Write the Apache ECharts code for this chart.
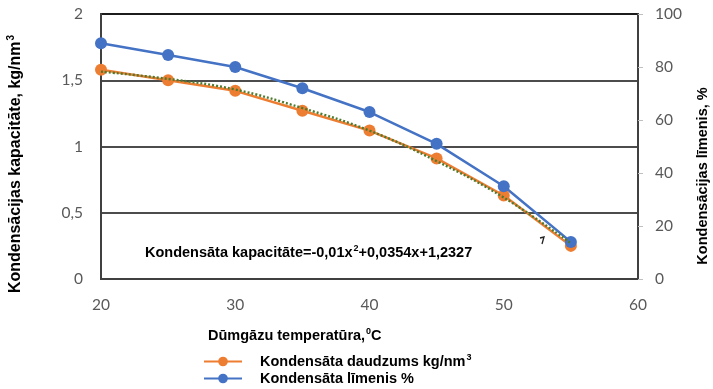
<!DOCTYPE html>
<html>
<head>
<meta charset="utf-8">
<script src="https://cdn.jsdelivr.net/npm/echarts@6/dist/echarts.min.js"></script>
<style>
  html, body { margin: 0; padding: 0; background: #fff; }
  #chart { width: 713px; height: 389px; }
</style>
</head>
<body>
<div id="chart"></div>
<script>
// Flue gas temperature, °C
const temperatures = [20, 25, 30, 35, 40, 45, 50, 55];
// Condensate amount, kg/nm³ (left axis)
const condensateAmount = [1.58, 1.50, 1.42, 1.27, 1.12, 0.91, 0.63, 0.25];
// Condensation level, % (right axis)
const condensationLevel = [89, 84.5, 80, 72, 63, 51, 35, 14];
// Polynomial trend of the condensate amount
const trendValues = [1.565, 1.51, 1.43, 1.29, 1.12, 0.89, 0.615, 0.27];

const leftTicks = ['0', '0,5', '1', '1,5', '2'];
const seriesNames = ['Kondensāta daudzums kg/nm³', 'Kondensāta līmenis %'];

const pairs = (xs, ys) => xs.map((x, i) => [x, ys[i]]);

const tickFont = { color: '#595959', fontSize: 15.5, fontFamily: 'Lato, "Liberation Sans", sans-serif' };
const boldFont = '"Liberation Sans", Arial, sans-serif';

const richBold = (size, supSize, lift) => ({
  t: { fontFamily: boldFont, fontWeight: 'bold', fontSize: size, fill: '#000', color: '#000' },
  s: { fontFamily: boldFont, fontWeight: 'bold', fontSize: supSize, fill: '#000', color: '#000', padding: [0, 0, lift, 1] }
});

// One legend block per series, stacked
const legendBlock = (name, top) => ({
  orient: 'vertical',
  left: 203, top: top, padding: 0,
  data: [name],
  itemWidth: 38, itemHeight: 12,
  formatter: n => n.endsWith('³') ? '{t|' + n.slice(0, -1) + '}{s|3}' : '{t|' + n + '}',
  textStyle: { padding: [0, 0, 0, 13], rich: richBold(14.5, 9, 8) }
});

const chart = echarts.init(document.getElementById('chart'));
chart.setOption({
  animation: false,
  backgroundColor: '#fff',
  grid: {
    left: 101, right: 75, top: 14, bottom: 110,
    show: true, borderColor: '#404040', borderWidth: 2, backgroundColor: 'transparent'
  },
  xAxis: {
    type: 'value', min: 20, max: 60, interval: 10,
    axisLine: { show: true, lineStyle: { color: '#404040', width: 2 } },
    axisTick: { show: false },
    splitLine: { show: false },
    axisLabel: Object.assign({ margin: 18 }, tickFont)
  },
  yAxis: [
    {
      type: 'value', min: 0, max: 2, interval: 0.5, position: 'left',
      axisLine: { show: true, lineStyle: { color: '#404040', width: 2 } },
      axisTick: { show: false },
      splitLine: { show: true, lineStyle: { color: '#111', width: 1.6 } },
      axisLabel: Object.assign({
        margin: 18,
        formatter: v => leftTicks[Math.round(v / 0.5)]
      }, tickFont)
    },
    {
      type: 'value', min: 0, max: 100, interval: 20, position: 'right',
      axisLine: { show: true, lineStyle: { color: '#404040', width: 2 } },
      axisTick: { show: true, length: 5, lineStyle: { color: '#bfbfbf', width: 1 } },
      splitLine: { show: false },
      axisLabel: Object.assign({ margin: 17 }, tickFont)
    }
  ],
  legend: [legendBlock(seriesNames[0], 353), legendBlock(seriesNames[1], 371)],
  series: [
    {
      name: seriesNames[0], type: 'line', yAxisIndex: 0,
      data: pairs(temperatures, condensateAmount),
      symbol: 'circle', symbolSize: 12,
      itemStyle: { color: '#ED7D31' },
      lineStyle: { color: '#ED7D31', width: 2.5 },
      z: 3
    },
    {
      name: seriesNames[1], type: 'line', yAxisIndex: 1,
      data: pairs(temperatures, condensationLevel),
      symbol: 'circle', symbolSize: 12,
      itemStyle: { color: '#4472C4' },
      lineStyle: { color: '#4472C4', width: 2.5 },
      z: 3
    },
    {
      name: 'Trend', type: 'line', yAxisIndex: 0,
      data: pairs(temperatures, trendValues),
      smooth: 0.4, symbol: 'none',
      lineStyle: { color: '#4E7A2E', width: 2.4, type: [2, 2] },
      z: 4, silent: true
    }
  ],
  graphic: [
    {
      type: 'text', left: 145, top: 244,
      style: {
        text: '{t|Kondensāta kapacitāte=-0,01x}{s|2}{t|+0,0354x+1,2327}',
        rich: richBold(14.5, 9, 8)
      }
    },
    {
      type: 'text', left: 208, top: 327,
      style: {
        text: '{t|Dūmgāzu temperatūra,}{s|0}{t|C}',
        rich: richBold(14.5, 9, 8)
      }
    },
    {
      type: 'text', x: 16, y: 164, rotation: Math.PI / 2,
      style: {
        text: '{t|Kondensācijas kapacitāte, kg/nm}{s|3}',
        align: 'center', verticalAlign: 'middle',
        rich: richBold(16, 10, 10)
      }
    },
    {
      type: 'text', x: 703, y: 176, rotation: Math.PI / 2,
      style: {
        text: 'Kondensācijas līmenis, %',
        align: 'center', verticalAlign: 'middle',
        font: 'bold 14.5px ' + boldFont, fill: '#000'
      }
    },
    {
      type: 'polyline',
      shape: { points: [[540, 238], [544, 237], [542, 244]] },
      style: { stroke: '#222', lineWidth: 1.3, fill: null }
    }
  ]
});
</script>
</body>
</html>
